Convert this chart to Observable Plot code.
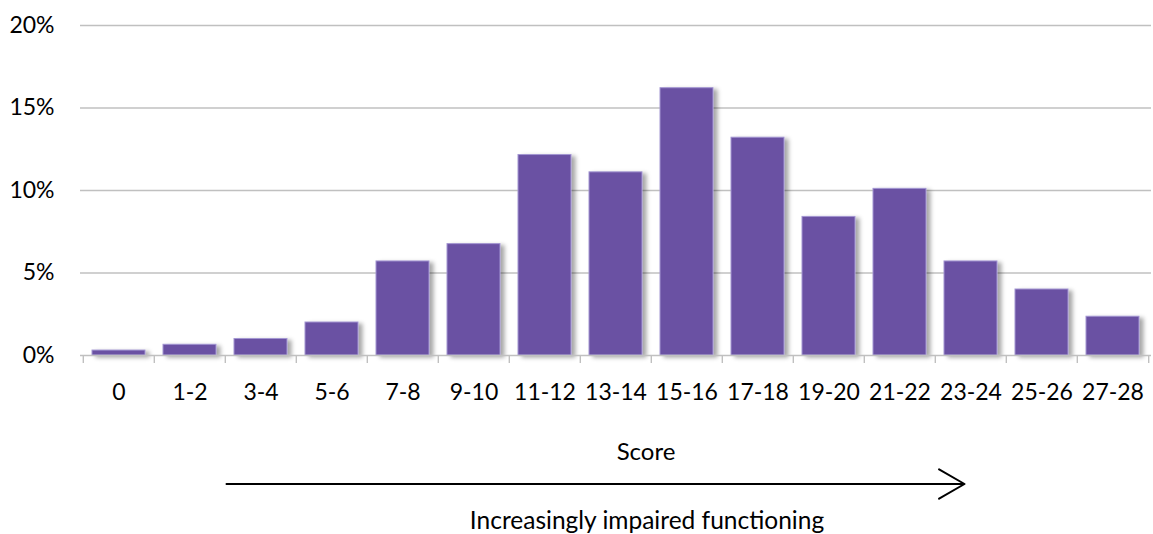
<!DOCTYPE html>
<html>
<head>
<meta charset="utf-8">
<script src="https://cdn.jsdelivr.net/npm/d3@7"></script>
<script src="https://cdn.jsdelivr.net/npm/@observablehq/plot@0.6"></script>
<style>
  html, body { margin: 0; padding: 0; background: #fff; }
  #chart { width: 1153px; height: 534px; overflow: hidden; }
</style>
</head>
<body>
<div id="chart"></div>
<script>
// ---- data ----
const categories = ["0", "1-2", "3-4", "5-6", "7-8", "9-10", "11-12", "13-14", "15-16", "17-18", "19-20", "21-22", "23-24", "25-26", "27-28"];
const values = [0.3, 0.65, 1.0, 2.0, 5.7, 6.75, 12.15, 11.1, 16.2, 13.2, 8.4, 10.1, 5.7, 4.0, 2.35];
const yTicks = [0, 5, 10, 15, 20];
const xTitle = "Score";
const caption = "Increasingly impaired functioning";
const arrowFrom = "3-4";
const arrowTo = "23-24";

const data = categories.map((c, i) => ({score: c, pct: values[i]}));

const W = 1153, H = 534, mL = 80, mR = 2, mT = 25, mB = 179;
const step = (W - mL - mR) / categories.length;
const gridColor = "#c0c0c0";

const chart = Plot.plot({
  width: W,
  height: H,
  marginLeft: mL,
  marginRight: mR,
  marginTop: mT,
  marginBottom: mB,
  style: {fontFamily: "Lato, 'Open Sans', sans-serif", fontSize: "22px", color: "#000", background: "#fff", overflow: "visible"},
  x: {domain: categories, paddingInner: 0.26, paddingOuter: 0.13, axis: null, label: null},
  y: {domain: [0, 20], axis: null, label: null},
  marks: [
    Plot.gridY(yTicks.filter(d => d > 0), {stroke: gridColor, strokeOpacity: 1, strokeWidth: 1.4}),
    Plot.axisY(yTicks, {tickSize: 0, tickPadding: 26, tickFormat: d => d + "%", fontSize: 23, label: null}),
    Plot.barY(data, {x: "score", y: "pct", fill: "#6a51a3", stroke: "#a396d2", strokeWidth: 1}),
    Plot.ruleY([0], {stroke: gridColor, strokeWidth: 1.4}),
    Plot.axisX({tickSize: 8, tickFormat: () => "", dx: -step / 2, stroke: gridColor, strokeWidth: 1.4, label: null}),
    Plot.axisX([categories[categories.length - 1]], {tickSize: 8, tickFormat: () => "", dx: step / 2, stroke: gridColor, strokeWidth: 1.4, label: null}),
    Plot.axisX({tickSize: 0, tickPadding: 28, fontSize: 23, label: null}),
    Plot.text([xTitle], {frameAnchor: "bottom", dx: 30, dy: 104, fontSize: 24, text: d => d}),
    Plot.arrow([0], {x1: () => arrowFrom, x2: () => arrowTo, y1: () => 0, y2: () => 0, dy: 128.5, insetStart: -34.5, insetEnd: 6.5, stroke: "#000", strokeWidth: 2, headLength: 22, headAngle: 60}),
    Plot.text([caption], {frameAnchor: "bottom", dx: 31, dy: 173, fontSize: 24.5, text: d => d})
  ]
});

// soft drop shadow under the bars, as in the original
const svg = d3.select(chart);
const defs = svg.insert("defs", ":first-child");
const f = defs.append("filter").attr("id", "barShadow").attr("x", "-20%").attr("y", "-20%").attr("width", "140%").attr("height", "140%");
f.append("feDropShadow").attr("dx", 4).attr("dy", 2).attr("stdDeviation", 2.2).attr("flood-color", "#000").attr("flood-opacity", 0.35);
svg.selectAll("g[aria-label='bar']").attr("filter", "url(#barShadow)");

document.getElementById("chart").appendChild(chart);
</script>
</body>
</html>
